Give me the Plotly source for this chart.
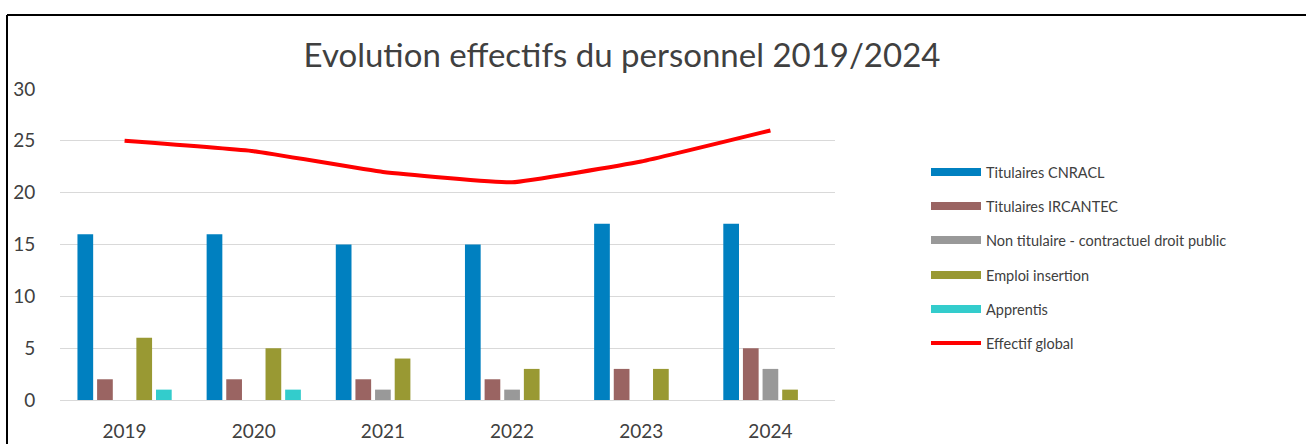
import plotly.graph_objects as go

years = ["2019", "2020", "2021", "2022", "2023", "2024"]
cnracl = [16, 16, 15, 15, 17, 17]
ircantec = [2, 2, 2, 2, 3, 5]
non_titulaire = [0, 0, 1, 1, 0, 3]
emploi_insertion = [6, 5, 4, 3, 3, 1]
apprentis = [1, 1, 0, 0, 0, 0]
effectif_global = [25, 24, 22, 21, 23, 26]

series_names = ["Titulaires CNRACL", "Titulaires IRCANTEC",
                "Non titulaire - contractuel droit public",
                "Emploi insertion", "Apprentis"]
series_values = [cnracl, ircantec, non_titulaire, emploi_insertion, apprentis]
series_colors = ["#0080C0", "#9A6462", "#999999", "#999933", "#33CCCC"]
line_name = "Effectif global"
line_color = "#FF0000"

FONT = "Lato"
TXT = "#404040"
W, H = 1306, 444
L, R, T, B = 60, 835, 89, 400  # plot area in pixels

fig = go.Figure()
for name, vals, col in zip(series_names, series_values, series_colors):
    fig.add_trace(go.Bar(x=years, y=vals, name=name, marker_color=col,
                         marker_line_width=0, showlegend=False))
fig.add_trace(go.Scatter(x=years, y=effectif_global, name=line_name, mode="lines",
                         line=dict(color=line_color, width=4, shape="spline", smoothing=0.3),
                         showlegend=False))

def px_x(px):
    return (px - L) / (R - L)

def px_y(py):
    return (B - py) / (B - T)

shapes = []
annotations = []
# manual legend
leg_rows = [172, 206, 240, 275, 309, 343]
for i, (name, col) in enumerate(zip(series_names + [line_name], series_colors + [line_color])):
    yc = leg_rows[i]
    if i < 5:
        shapes.append(dict(type="rect", xref="paper", yref="paper",
                           x0=px_x(931), x1=px_x(981), y0=px_y(yc + 4), y1=px_y(yc - 4),
                           fillcolor=col, line_width=0))
    else:
        shapes.append(dict(type="line", xref="paper", yref="paper",
                           x0=px_x(931), x1=px_x(981), y0=px_y(yc), y1=px_y(yc),
                           line=dict(color=col, width=4)))
    annotations.append(dict(text=name, xref="paper", yref="paper",
                            x=px_x(984), y=px_y(yc), xanchor="left", yanchor="middle",
                            showarrow=False, font=dict(family=FONT, size=14.5, color=TXT)))

# frame border
shapes.append(dict(type="line", xref="paper", yref="paper",
                   x0=px_x(7), x1=px_x(7), y0=px_y(15), y1=px_y(450),
                   line=dict(color="#000000", width=2)))
shapes.append(dict(type="line", xref="paper", yref="paper",
                   x0=px_x(7), x1=px_x(1310), y0=px_y(15), y1=px_y(15),
                   line=dict(color="#000000", width=2)))

fig.update_layout(
    width=W, height=H,
    margin=dict(l=L, r=W - R, t=T, b=H - B, pad=0, autoexpand=False),
    paper_bgcolor="white", plot_bgcolor="white",
    barmode="group", bargap=0.24, bargroupgap=0.2,
    title=dict(text="Evolution effectifs du personnel 2019/2024",
               xref="container", yref="container", x=622 / W, y=1 - 55 / H,
               xanchor="center", yanchor="middle",
               font=dict(family=FONT, size=33, color=TXT)),
    font=dict(family=FONT, color=TXT),
    shapes=shapes, annotations=annotations,
    showlegend=False,
)
fig.update_xaxes(type="category", showgrid=False, showline=False, zeroline=False,
                 automargin=False,
                 ticks="outside", ticklen=14, tickcolor="rgba(0,0,0,0)",
                 tickfont=dict(family=FONT, size=19, color=TXT))
fig.update_yaxes(range=[0, 30], dtick=5, showgrid=True, gridcolor="#D9D9D9", gridwidth=1,
                 automargin=False,
                 zeroline=True, zerolinecolor="#D9D9D9", zerolinewidth=1, showline=False,
                 ticks="outside", ticklen=20, tickcolor="rgba(0,0,0,0)",
                 tickfont=dict(family=FONT, size=19, color=TXT))

fig.write_html("out.html", config={"displayModeBar": False},
               post_script="document.body.style.margin='0';document.body.style.overflow='hidden';")
